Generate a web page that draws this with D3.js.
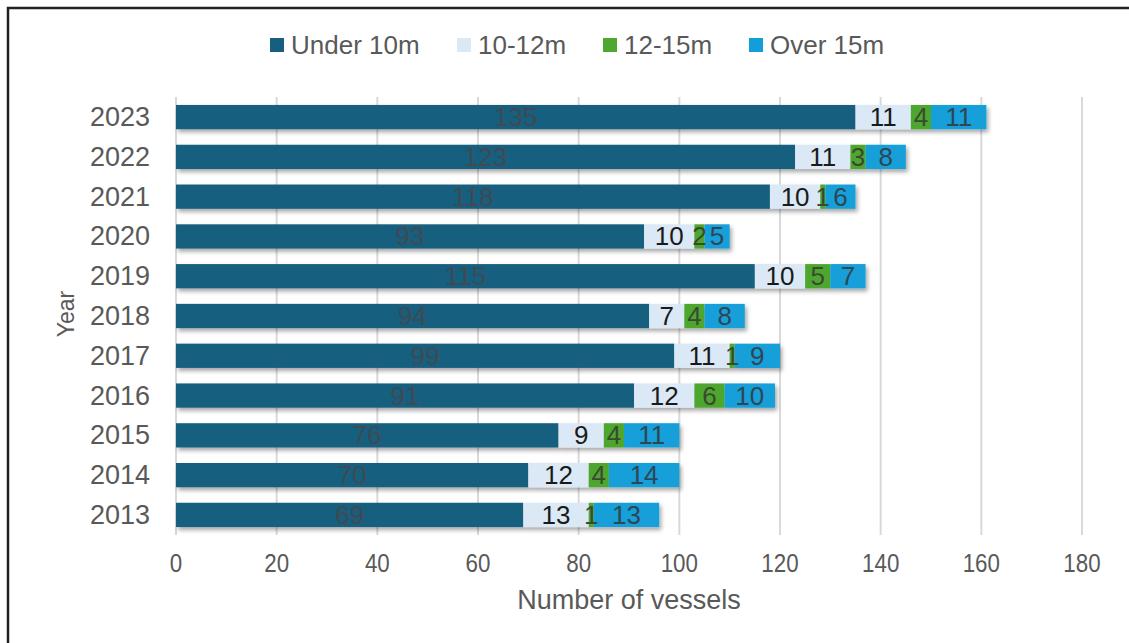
<!DOCTYPE html>
<html>
<head>
<meta charset="utf-8">
<script src="https://cdn.jsdelivr.net/npm/d3@7"></script>
<style>
  html, body { margin: 0; padding: 0; background: #fff; }
  svg { display: block; }
  text { font-family: "Liberation Sans", Arial, sans-serif; }
</style>
</head>
<body>
<svg id="chart" width="1129" height="643"></svg>
<script>
// Vessel counts by length class, per year
const years = ["2013","2014","2015","2016","2017","2018","2019","2020","2021","2022","2023"];
const under10 = [69, 70, 76, 91, 99, 94, 115, 93, 118, 123, 135];
const m10to12 = [13, 12, 9, 12, 11, 7, 10, 10, 10, 11, 11];
const m12to15 = [1, 4, 4, 6, 1, 4, 5, 2, 1, 3, 4];
const over15  = [13, 14, 11, 10, 9, 8, 7, 5, 6, 8, 11];
const seriesNames = ["Under 10m", "10-12m", "12-15m", "Over 15m"];
const xTicks = [0, 20, 40, 60, 80, 100, 120, 140, 160, 180];

const colors = ["#175e7f", "#dbe8f5", "#4ea72e", "#129fd9"];
const labelColors = ["#3f4a52", "#1a1a1a", "#3a4a30", "#2f4654"];

const rows = years.map((y, i) => ({
  year: y,
  "Under 10m": under10[i],
  "10-12m": m10to12[i],
  "12-15m": m12to15[i],
  "Over 15m": over15[i]
}));

const svg = d3.select("#chart");
const W = 1129, H = 643;
const FS = "26px";

// outer frame
svg.append("rect")
  .attr("x", 8).attr("y", 8).attr("width", W + 20).attr("height", H + 20)
  .attr("fill", "none").attr("stroke", "#222").attr("stroke-width", 2.5);

const plot = { left: 176, right: 1082, top: 97, bottom: 535 };

const x = d3.scaleLinear().domain([0, 180]).range([plot.left, plot.right]);
const y = d3.scaleBand().domain(years.slice().reverse())
  .range([plot.top, plot.bottom]).paddingInner(0.39).paddingOuter(0.2);

const defs = svg.append("defs");
const f = defs.append("filter").attr("id", "shadow")
  .attr("x", "-5%").attr("y", "-30%").attr("width", "110%").attr("height", "170%");
f.append("feDropShadow").attr("dx", 2).attr("dy", 3).attr("stdDeviation", 2)
  .attr("flood-color", "#000").attr("flood-opacity", 0.35);

// gridlines
svg.append("g").selectAll("line").data(xTicks).join("line")
  .attr("x1", d => x(d)).attr("x2", d => x(d))
  .attr("y1", plot.top).attr("y2", plot.bottom)
  .attr("stroke", "#d9d9d9").attr("stroke-width", 2);

// x tick labels (narrow digits)
svg.append("g").selectAll("text").data(xTicks).join("text")
  .attr("transform", d => `translate(${x(d)}, 572) scale(0.86, 1)`)
  .attr("text-anchor", "middle")
  .attr("fill", "#595959")
  .style("font-size", FS)
  .text(d => d);

// y tick labels
svg.append("g").selectAll("text").data(years).join("text")
  .attr("x", 150).attr("y", d => y(d) + y.bandwidth() / 2 + 9)
  .attr("text-anchor", "end")
  .attr("fill", "#595959")
  .style("font-size", "27px")
  .text(d => d);

// axis titles
svg.append("text")
  .attr("x", (plot.left + plot.right) / 2).attr("y", 609)
  .attr("text-anchor", "middle").attr("fill", "#595959")
  .style("font-size", "27px")
  .text("Number of vessels");

svg.append("text")
  .attr("transform", `translate(74, ${(plot.top + plot.bottom) / 2 - 2}) rotate(-90)`)
  .attr("text-anchor", "middle").attr("fill", "#595959")
  .style("font-size", "23px")
  .text("Year");

// stacked bars
const stack = d3.stack().keys(seriesNames)(rows);

const barGroup = svg.append("g").attr("filter", "url(#shadow)");
stack.forEach((layer, k) => {
  barGroup.append("g").selectAll("rect").data(layer).join("rect")
    .attr("x", d => x(d[0]))
    .attr("y", d => y(d.data.year))
    .attr("width", d => x(d[1]) - x(d[0]))
    .attr("height", y.bandwidth())
    .attr("fill", colors[k]);
});

// value labels
stack.forEach((layer, k) => {
  svg.append("g").selectAll("text").data(layer).join("text")
    .attr("x", d => (x(d[0]) + x(d[1])) / 2)
    .attr("y", d => y(d.data.year) + y.bandwidth() / 2 + 9)
    .attr("text-anchor", "middle")
    .attr("fill", labelColors[k])
    .style("font-size", FS)
    .text(d => d[1] - d[0]);
});

// legend
const legendX = [270, 457, 603, 749];
const legend = svg.append("g");
seriesNames.forEach((name, k) => {
  legend.append("rect")
    .attr("x", legendX[k]).attr("y", 38).attr("width", 14).attr("height", 14)
    .attr("fill", colors[k]);
  legend.append("text")
    .attr("x", legendX[k] + 21).attr("y", 54)
    .attr("fill", "#595959")
    .style("font-size", FS)
    .text(name);
});
</script>
</body>
</html>
